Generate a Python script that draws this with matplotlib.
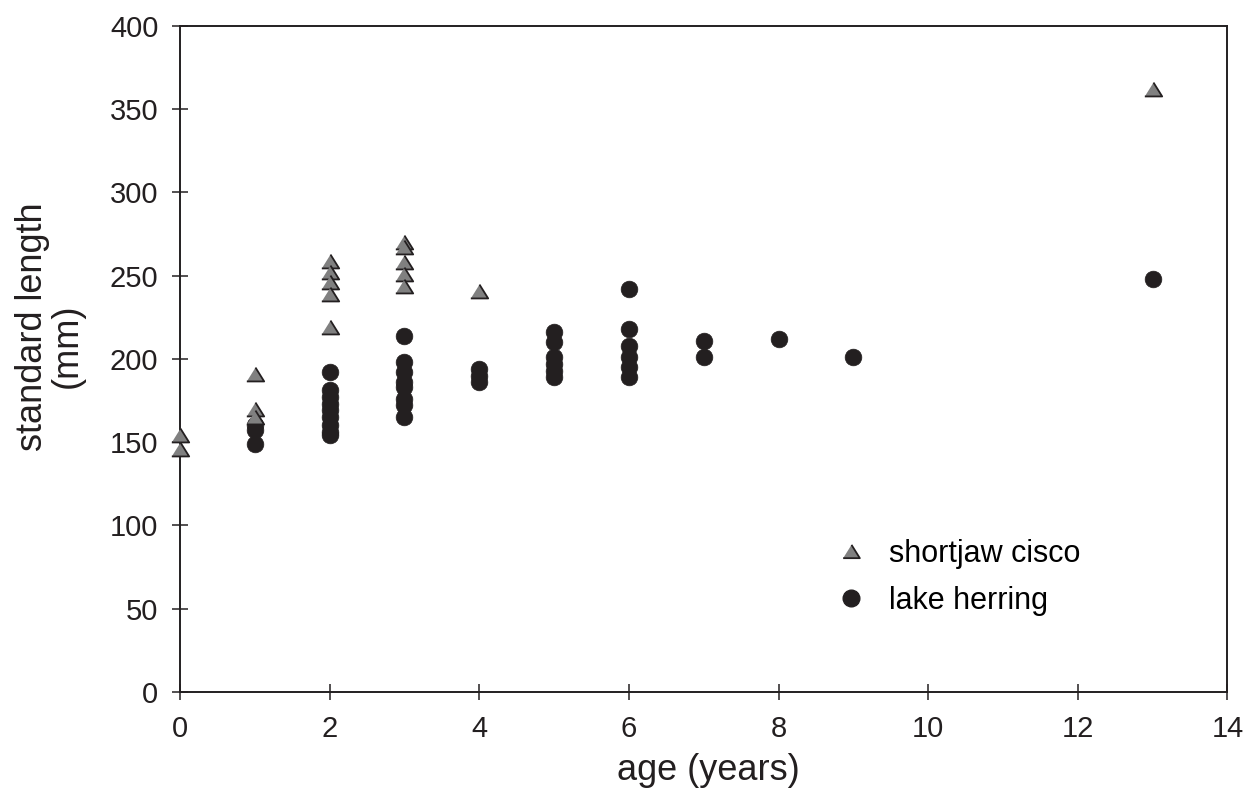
import matplotlib
matplotlib.use("Agg")
import matplotlib.pyplot as plt
from matplotlib.lines import Line2D

plt.rcParams['font.family'] = ['Liberation Sans', 'DejaVu Sans']

# shortjaw cisco (triangles)
cisco_age = [0, 0, 1, 1, 1, 2, 2, 2, 2, 2, 3, 3, 3, 3, 3, 4, 13]
cisco_len = [154, 146, 191, 170, 165, 259, 252, 246, 239, 219,
             270, 267, 258, 251, 244, 241, 362]

# lake herring (circles)
herring_age = [1, 1, 1,
               2, 2, 2, 2, 2, 2, 2, 2, 2,
               3, 3, 3, 3, 3, 3, 3, 3,
               4, 4, 4,
               5, 5, 5, 5, 5, 5,
               6, 6, 6, 6, 6, 6,
               7, 7, 8, 9, 13]
herring_len = [160, 157, 149,
               192, 181, 177, 173, 169, 165, 160, 156, 154,
               214, 198, 192, 186, 183, 176, 172, 165,
               194, 190, 186,
               216, 210, 201, 197, 193, 189,
               242, 218, 208, 201, 195, 189,
               211, 201, 212, 201, 248]

x_ticks = [0, 2, 4, 6, 8, 10, 12, 14]
y_ticks = [0, 50, 100, 150, 200, 250, 300, 350, 400]
series_names = ['shortjaw cisco', 'lake herring']

dark = '#231f20'
gray = '#808080'
tri = [(-1, -0.8), (1, -0.8), (0, 0.8)]

fig = plt.figure(figsize=(12.44, 7.93), dpi=100)
ax = fig.add_axes([0.1447, 0.1277, 0.842, 0.8395])

ax.plot(herring_age, herring_len, linestyle='none', marker='o', markersize=12,
        markerfacecolor=dark, markeredgecolor=dark, markeredgewidth=0.5,
        clip_on=False, zorder=3)
ax.plot(cisco_age, cisco_len, linestyle='none', marker=tri, markersize=12.5,
        markerfacecolor=gray, markeredgecolor=dark, markeredgewidth=1.3,
        clip_on=False, zorder=4)

ax.set_xlim(0, 14)
ax.set_ylim(0, 400)
ax.set_xticks(x_ticks)
ax.set_yticks(y_ticks)
ax.tick_params(direction='inout', length=11, width=1.1, color=dark,
               labelsize=21, labelcolor=dark)
ax.tick_params(axis='x', pad=11)
ax.tick_params(axis='y', pad=10)
for s in ax.spines.values():
    s.set_linewidth(1.4)
    s.set_color(dark)

ax.set_xlabel('age (years)', fontsize=26, color=dark, va='center')
ax.xaxis.set_label_coords(0.504, -0.1176)

ax.set_ylabel('standard length', fontsize=26, color=dark, va='center')
ax.yaxis.set_label_coords(-0.1405, 0.549)
fig.text(67 / 1244, 1 - 346 / 793, '(mm)', rotation=90, fontsize=26,
         color=dark, ha='center', va='center')

handles = [
    Line2D([], [], linestyle='none', marker=tri, markersize=12,
           markerfacecolor=gray, markeredgecolor=dark, markeredgewidth=1.3),
    Line2D([], [], linestyle='none', marker='o', markersize=12,
           markerfacecolor=dark, markeredgecolor=dark),
]
ax.legend(handles, series_names, loc='center left',
          bbox_to_anchor=(0.614, 0.1715), frameon=False, fontsize=22,
          handlelength=1.0, handletextpad=0.75, labelspacing=0.56,
          borderaxespad=0)

fig.savefig('out.png', dpi=100)
